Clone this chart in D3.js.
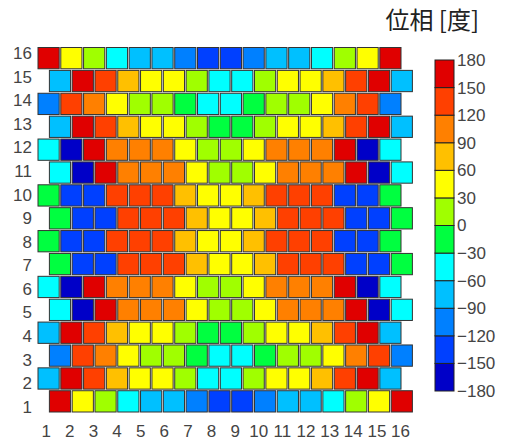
<!DOCTYPE html>
<html lang="ja">
<head>
    <meta charset="UTF-8">
    <title>位相 [度]</title>
    <script src="https://d3js.org/d3.v7.min.js"></script>
    <style>
        body {
            margin: 0;
            padding: 0;
            background: #fff;
        }

        .tick text {
            font-family: "Liberation Sans", Arial, sans-serif;
            font-size: 17px;
            fill: #444;
        }

        .title {
            font-family: "Noto Sans CJK JP", sans-serif;
            font-size: 24px;
            fill: #222;
        }
    </style>
</head>
<body>
    <svg id="chart"></svg>

    <script>
        // row labels (bottom to top) and column labels
        const rowLabels = d3.range(1, 17);
        const colLabels = d3.range(1, 17);

        // colour bands of the colour bar, from -180 up to 180
        const bandEdges = [-180, -150, -120, -90, -60, -30, 0, 30, 60, 90, 120, 150, 180];
        const bandColors = ["#0000c8", "#0040ff", "#0080ff", "#00c0ff", "#00ffff", "#00ff40",
                            "#a0ff00", "#ffff00", "#ffc000", "#ff8000", "#ff4000", "#e00000"];

        // phase of each element [deg], one list per row, row 1 first
        const row1  = [165, 45, 15, -45, -75, -75, -105, -135, -135, -105, -75, -75, -45, 15, 45, 165];
        const row2  = [-75, 165, 135, 75, 45, 45, 15, -45, -45, 15, 45, 45, 75, 135, 165, -75];
        const row3  = [-105, 135, 105, 45, 15, 15, -15, -45, -45, -15, 15, 15, 45, 105, 135, -105];
        const row4  = [-75, 165, 135, 75, 45, 45, 15, -15, -15, 15, 45, 45, 75, 135, 165, -75];
        const row5  = [-45, -165, 165, 105, 105, 105, 45, 15, 15, 45, 105, 105, 105, 165, -165, -45];
        const row6  = [-45, -165, 165, 105, 105, 105, 45, 15, 15, 45, 105, 105, 105, 165, -165, -45];
        const row7  = [-15, -135, -135, 135, 135, 135, 75, 45, 45, 75, 135, 135, 135, -135, -135, -15];
        const row8  = [-15, -135, -135, 135, 135, 135, 75, 45, 45, 75, 135, 135, 135, -135, -135, -15];
        const row9  = [-15, -135, -135, 135, 135, 135, 75, 45, 45, 75, 135, 135, 135, -135, -135, -15];
        const row10 = [-15, -135, -135, 135, 135, 135, 75, 45, 45, 75, 135, 135, 135, -135, -135, -15];
        const row11 = [-45, -165, 165, 105, 105, 105, 45, 15, 15, 45, 105, 105, 105, 165, -165, -45];
        const row12 = [-45, -165, 165, 105, 105, 105, 45, 15, 15, 45, 105, 105, 105, 165, -165, -45];
        const row13 = [-75, 165, 135, 75, 45, 45, 15, -15, -15, 15, 45, 45, 75, 135, 165, -75];
        const row14 = [-105, 135, 105, 45, 15, 15, -15, -45, -45, -15, 15, 15, 45, 105, 135, -105];
        const row15 = [-75, 165, 135, 75, 45, 45, 15, -45, -45, 15, 45, 45, 75, 135, 165, -75];
        const row16 = [165, 45, 15, -45, -75, -75, -105, -135, -135, -105, -75, -75, -45, 15, 45, 165];

        const phaseRows = [row1, row2, row3, row4, row5, row6, row7, row8,
                           row9, row10, row11, row12, row13, row14, row15, row16];

        const width = 507, height = 443;
        const svg = d3.select("#chart")
            .attr("width", width)
            .attr("height", height);

        // discrete colour map
        const color = d3.scaleQuantize()
            .domain([-180, 180])
            .range(bandColors);

        // cells: odd rows are shifted right by half a cell
        const xCell = d3.scaleBand()
            .domain(d3.range(16))
            .range([38, 401])
            .paddingInner(0.07);

        const yCell = d3.scaleBand()
            .domain(rowLabels.slice().reverse())
            .range([47.5, 412])
            .paddingInner(0.07);

        const cells = [];
        phaseRows.forEach((row, i) => {
            row.forEach((v, j) => cells.push({ row: i + 1, col: j, phase: v }));
        });

        svg.append("g")
            .selectAll("rect")
            .data(cells)
            .enter().append("rect")
            .attr("x", d => xCell(d.col) + (d.row % 2 === 1 ? xCell.step() / 2 : 0))
            .attr("y", d => yCell(d.row))
            .attr("width", xCell.bandwidth())
            .attr("height", yCell.bandwidth())
            .attr("fill", d => color(d.phase))
            .attr("stroke", "#333")
            .attr("stroke-width", 1);

        // axis tick labels (no lines)
        const xTick = d3.scaleLinear().domain([1, 16]).range([45.7, 400]);
        const yTick = d3.scaleLinear().domain([1, 16]).range([406.7, 53.3]);

        const xAxis = svg.append("g")
            .attr("transform", "translate(0,425)")
            .call(d3.axisBottom(xTick).tickValues(colLabels).tickSize(0).tickPadding(0));
        xAxis.select(".domain").remove();

        const yAxis = svg.append("g")
            .attr("transform", "translate(32,0)")
            .call(d3.axisLeft(yTick).tickValues(rowLabels).tickSize(0).tickPadding(0));
        yAxis.select(".domain").remove();

        // colour bar
        const yBar = d3.scaleLinear().domain([-180, 180]).range([391, 60]);
        const barX = 435, barW = 19;

        const bands = bandColors.map((c, i) => ({ lo: bandEdges[i], hi: bandEdges[i + 1], c: c }));

        svg.append("g")
            .selectAll("rect")
            .data(bands)
            .enter().append("rect")
            .attr("x", barX)
            .attr("y", d => yBar(d.hi))
            .attr("width", barW)
            .attr("height", d => yBar(d.lo) - yBar(d.hi))
            .attr("fill", d => d.c)
            .attr("stroke", "#222")
            .attr("stroke-width", 1);

        const barAxis = svg.append("g")
            .attr("transform", `translate(${barX + barW},0)`)
            .call(d3.axisRight(yBar).tickValues(bandEdges).tickSize(0).tickPadding(3));
        barAxis.select(".domain").remove();

        // title
        svg.append("text")
            .attr("class", "title")
            .attr("x", 479)
            .attr("y", 29)
            .attr("text-anchor", "end")
            .text("位相 [度]");
    </script>
</body>
</html>
